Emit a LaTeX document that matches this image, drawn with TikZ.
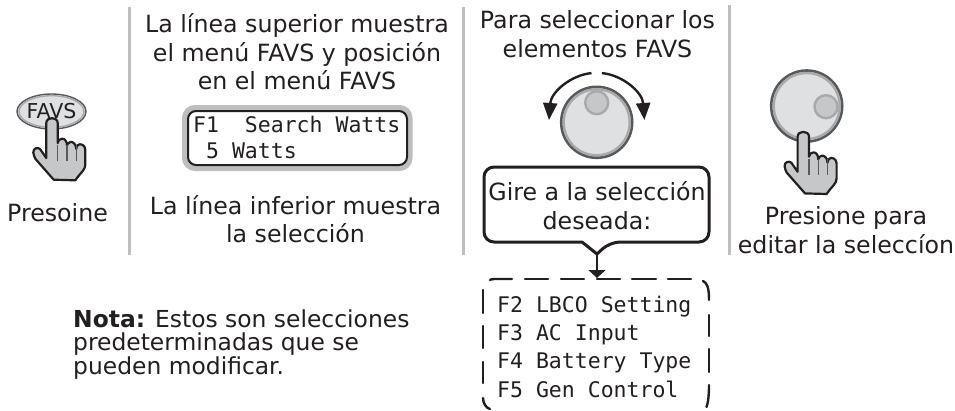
\documentclass[tikz,border=0pt]{standalone}
\usepackage{fontspec}
\setmainfont{DejaVu Sans}
\newfontfamily\lcdfont{DejaVu Sans Mono}
\usetikzlibrary{arrows.meta}
\definecolor{ink}{HTML}{231F20}
\definecolor{sepgray}{HTML}{BCBEC0}
\definecolor{handgray}{HTML}{C6C7C9}
\definecolor{knobfill}{HTML}{DFE0E1}
\definecolor{knobring}{HTML}{A7A9AC}
\definecolor{knobedge}{HTML}{58595B}
\tikzset{
  sep/.style={draw=sepgray,line width=3pt},
  body/.style={font=\fontsize{23.7}{28}\selectfont,text=ink,anchor=base,inner sep=0pt},
  notetext/.style={font=\fontsize{23.4}{28}\selectfont,text=ink,anchor=base west,inner sep=0pt},
  mono/.style={font=\lcdfont\fontsize{21.5}{26}\selectfont,text=ink,anchor=base west,inner sep=0pt},
  dashpiece/.style={draw=ink,line width=2.4pt,line cap=round},
  myhand/.pic={
    \path[fill=handgray,draw=ink,line width=2.2pt,line join=round]
      (1.7,61.7) -- (23.3,62.3)
      .. controls (29,54) and (33.3,52) .. (33.3,46.7)
      -- (33.3,31.7)
      .. controls (33.3,27) and (28.3,25) .. (26,27)
      .. controls (24.5,28) and (24.3,29.5) .. (24.3,31)
      .. controls (24,26) and (21,23.5) .. (18.5,24)
      .. controls (16,24.5) and (15,26) .. (15,27.7)
      .. controls (15,23) and (12.5,20.5) .. (10,20.7)
      .. controls (7.5,21) and (5.7,22.5) .. (5.7,25)
      -- (5.7,5)
      .. controls (5.7,-1.5) and (-5.7,-1.5) .. (-5.7,5)
      -- (-5.7,40)
      -- (-12,31)
      .. controls (-14,29) and (-19,30) .. (-18.7,34.5)
      .. controls (-18.5,37) and (-17.5,39) .. (-16.5,41)
      -- cycle;
    \foreach \fx in {5.7,15,24.3}
      \draw[draw=knobedge,line width=1.2pt] (\fx,27) -- (\fx,43);
  },
  myknob/.pic={
    \path[fill=knobfill,draw=knobedge,line width=2.6pt] (0,0) circle[radius=35.5];
    \path[draw=knobring,line width=2.4pt] (0,0) circle[radius=33];
  },
  mysmallknob/.style={fill=handgray,draw=knobring,line width=2.4pt},
}
\begin{document}
\begin{tikzpicture}[x=1pt,y=-1pt]
\useasboundingbox (0,0) rectangle (955,410);
% separators
\draw[sep] (129,7) -- (129,255);
\draw[sep] (463,7) -- (463,255);
\draw[sep] (729,5) -- (729,255);
% column 1
\path[fill=knobfill,draw=knobedge,line width=1.4pt] (51.5,111.5) ellipse[x radius=34.5,y radius=17.5];
\path[draw=knobring,line width=1.4pt] (51.5,111.5) ellipse[x radius=32.5,y radius=15.8];
\node[font=\fontsize{20.5}{24}\selectfont,text=ink,anchor=base,inner sep=0pt] (favs) at (51.5,118) {FAVS};
\pic at (52,118) {myhand};
\node[body] (presoine) at (57.5,221) {Presoine};
% column 2
\node[body] (t1) at (297,32) {La línea superior muestra};
\node[body] (t2) at (297,61) {el menú FAVS y posición};
\node[body] (t3) at (297,89) {en el menú FAVS};
\path[draw=sepgray,fill=white,line width=6pt,rounded corners=10pt] (185,108) rectangle (409.5,168);
\path[draw=ink,line width=2pt,rounded corners=8pt] (188,111) rectangle (407,165);
\node[mono] (l1) at (193,132) {F1\ \ Search Watts};
\node[mono] (l2) at (193,158) {\ 5 Watts};
\node[body] (t4) at (295.5,214) {La línea inferior muestra};
\node[body] (t5) at (295.5,242) {la selección};
% column 3
\node[body] (t6) at (597.5,28) {Para seleccionar los};
\node[body] (t7) at (597.5,57) {elementos FAVS};
\pic at (596.7,122.3) {myknob};
\path[mysmallknob] (596.7,102.7) circle[radius=11.5];
\draw[draw=ink,line width=2.4pt,-{Triangle[length=17pt,width=14pt]}] (591.5,73.1) .. controls (571,75) and (551,92) .. (549,120);
\draw[draw=ink,line width=2.4pt,-{Triangle[length=17pt,width=14pt]}] (601.9,73.1) .. controls (622.4,75) and (642.4,92) .. (644.4,120);
\coordinate (pointer) at (597,254);
\coordinate (arrowtip) at (597,278);
\path[fill=white,draw=ink,line width=3pt,line join=round,rounded corners=10pt]
  (597,167) -- (709,167) -- (709,242) -- (610,242)
  [sharp corners] -- (pointer) -- (582,242)
  [rounded corners=10pt] -- (484,242) -- (484,167) -- cycle;
\node[body] (c1) at (597,200) {Gire a la selección};
\node[body] (c2) at (597,229) {deseada:};
\draw[draw=ink,line width=2.6pt,-{Triangle[length=8pt,width=17pt]}] (pointer) -- (arrowtip);
% dashed box
\foreach \xa/\xb in {525/548,561/584,597/620,632/656,668/691}
  \draw[dashpiece] (\xa,279) -- (\xb,279);
\draw[dashpiece] (512,279) -- (494,279) .. controls (491,279) and (490,280) .. (490,280);
\draw[dashpiece] (703,281) .. controls (707,283) and (709,287) .. (709,300);
\foreach \ya/\yb in {315/336,349/372}
  \draw[dashpiece] (709,\ya) -- (709,\yb);
\draw[dashpiece] (709,385) .. controls (709,396) and (708,403) .. (706.5,407);
\foreach \ya/\yb in {290/313,326/348,362/383}
  \draw[dashpiece] (483,\ya) -- (483,\yb);
\draw[dashpiece] (483,398) .. controls (483,403) and (486,408) .. (490,409);
\node[mono] (f2) at (497,312) {F2 LBCO Setting};
\node[mono] (f3) at (497,340) {F3 AC Input};
\node[mono] (f4) at (497,368) {F4 Battery Type};
\node[mono] (f5) at (497,397) {F5 Gen Control};
% column 4
\pic at (806.7,106) {myknob};
\path[mysmallknob] (826,106.7) circle[radius=11.5];
\pic at (803.3,131.7) {myhand};
\node[body] (p1) at (846,224) {Presione para};
\node[body] (p2) at (846,253) {editar la seleccíon};
% note
\node[notetext] (n1) at (73,327) {\textbf{Nota:} Estos son selecciones};
\node[notetext] (n2) at (73,350) {predeterminadas que se};
\node[notetext] (n3) at (73,374) {pueden modificar.};
\end{tikzpicture}
\end{document}
